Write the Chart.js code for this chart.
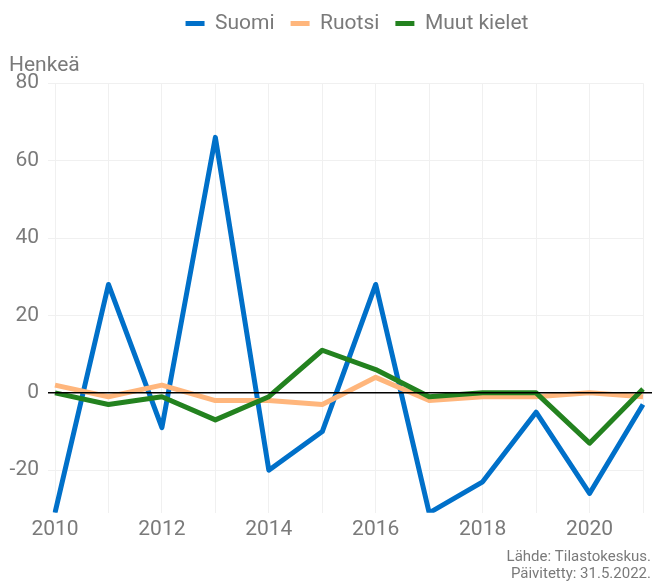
<!DOCTYPE html>
<html>
<head>
<meta charset="utf-8">
<script src="https://cdn.jsdelivr.net/npm/chart.js@4"></script>
<style>
  body { margin: 0; background: #fff; }
  #wrap { width: 652px; height: 581px; position: relative; }
</style>
</head>
<body>
<div id="wrap"><canvas id="kielet"></canvas></div>
<script>
  // Data
  const years = ['2010', '2011', '2012', '2013', '2014', '2015', '2016', '2017', '2018', '2019', '2020', '2021'];
  const suomi = [-31, 28, -9, 66, -20, -10, 28, -31, -23, -5, -26, -3];
  const ruotsi = [2, -1, 2, -2, -2, -3, 4, -2, -1, -1, 0, -1];
  const muut = [0, -3, -1, -7, -1, 11, 6, -1, 0, 0, -13, 1];
  const sourceLines = ['Lähde: Tilastokeskus.', 'Päivitetty: 31.5.2022.'];

  const grey = '#7a7a7a';
  const font = 'Roboto';

  // Zero line on top of the lines, source text in the bottom right corner
  const extrasPlugin = {
    id: 'extras',
    afterLayout(chart) {
      // legend sits a bit right of the canvas centre in the original
      chart.legend.left += 31;
      chart.legend.right += 31;
    },
    afterDatasetsDraw(chart) {
      const ctx = chart.ctx;
      const y0 = chart.scales.y.getPixelForValue(0);
      ctx.save();
      ctx.strokeStyle = '#000';
      ctx.lineWidth = 1.5;
      ctx.beginPath();
      ctx.moveTo(chart.chartArea.left - 7, y0);
      ctx.lineTo(chart.chartArea.right + 9, y0);
      ctx.stroke();
      ctx.restore();
    },
    afterDraw(chart) {
      const ctx = chart.ctx;
      ctx.save();
      ctx.font = '15px ' + font;
      ctx.fillStyle = grey;
      ctx.textAlign = 'right';
      ctx.textBaseline = 'alphabetic';
      ctx.fillText(sourceLines[0], 651, 561);
      ctx.fillText(sourceLines[1], 651, 578);
      ctx.restore();
    }
  };

  const data = {
    labels: years,
    datasets: [
      { label: 'Suomi', data: suomi, borderColor: '#0070c9', backgroundColor: '#0070c9', order: 3 },
      { label: 'Ruotsi', data: ruotsi, borderColor: '#ffb67c', backgroundColor: '#ffb67c', order: 2 },
      { label: 'Muut kielet', data: muut, borderColor: '#23821f', backgroundColor: '#23821f', order: 1 }
    ]
  };

  new Chart(document.getElementById('kielet'), {
    type: 'line',
    data: data,
    plugins: [extrasPlugin],
    options: {
      responsive: true,
      maintainAspectRatio: false,
      animation: false,
      layout: { padding: { left: 9, right: 9, top: -3, bottom: 35 } },
      elements: {
        line: { borderWidth: 5, tension: 0, borderJoinStyle: 'round' },
        point: { radius: 0, hoverRadius: 0 }
      },
      plugins: {
        legend: {
          position: 'top',
          labels: {
            color: grey,
            font: { family: font, size: 21 },
            boxWidth: 19,
            boxHeight: 5,
            padding: 16,
            sort: (a, b) => a.datasetIndex - b.datasetIndex,
            // thin flat boxes, without the thick line border
            generateLabels: chart => Chart.defaults.plugins.legend.labels.generateLabels(chart)
              .map(item => Object.assign(item, { lineWidth: 0 }))
          }
        },
        title: {
          display: true,
          text: 'Henkeä',
          align: 'start',
          weight: 500,
          color: grey,
          font: { family: font, size: 21, weight: 'normal' },
          padding: { top: 9, bottom: 5 }
        },
        tooltip: { enabled: false }
      },
      scales: {
        x: {
          offset: false,
          grid: { color: '#f0f0f0', drawTicks: false },
          border: { display: false },
          ticks: {
            color: grey,
            font: { family: font, size: 21 },
            maxRotation: 0,
            autoSkip: false,
            padding: 4,
            callback: function(val, i) { return i % 2 === 0 ? this.getLabelForValue(val) : ''; }
          }
        },
        y: {
          min: -31,
          max: 80,
          afterFit: axis => { axis.width = 46; },
          grid: { color: '#f0f0f0', tickLength: 7 },
          border: { display: false },
          ticks: {
            stepSize: 20,
            includeBounds: false,
            color: grey,
            font: { family: font, size: 21 },
            padding: 9
          }
        }
      }
    }
  });
</script>
</body>
</html>
